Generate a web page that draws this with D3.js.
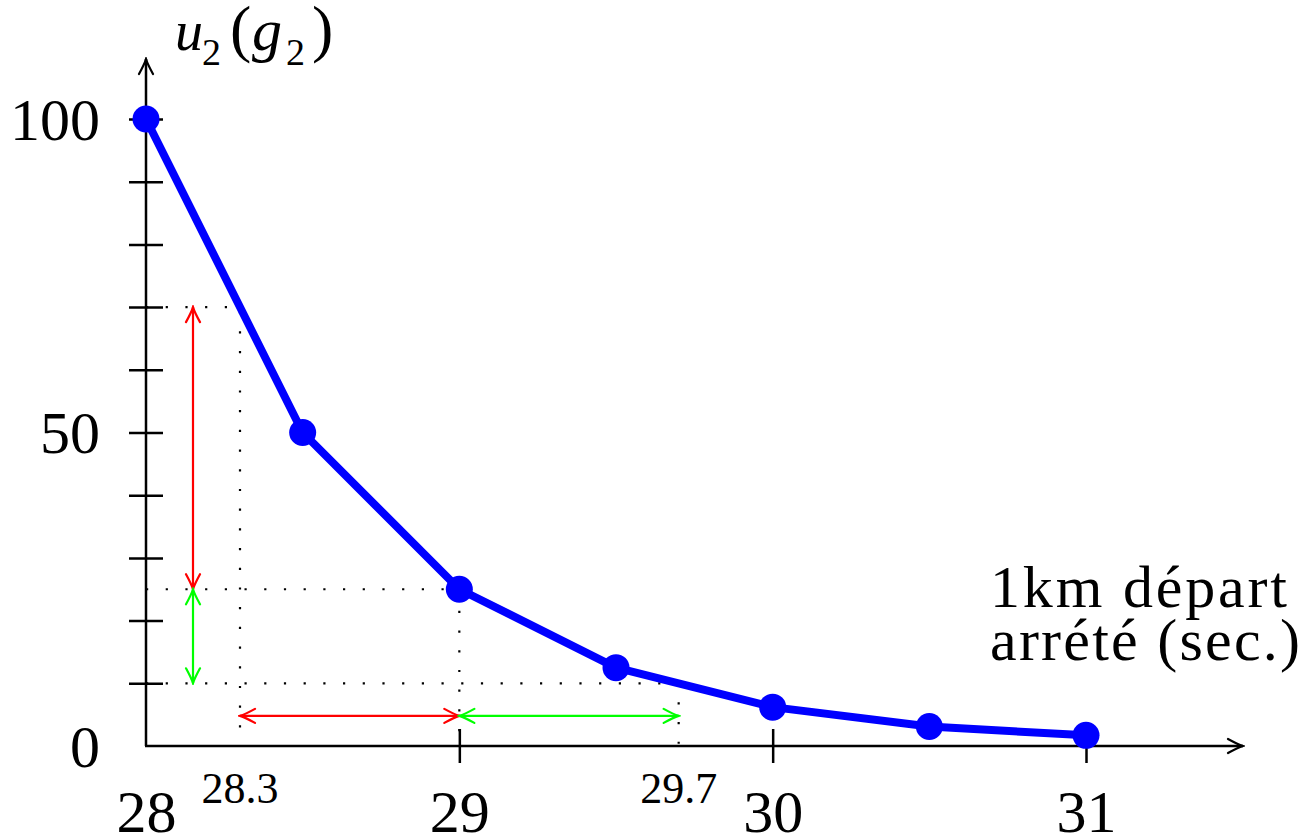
<!DOCTYPE html>
<html>
<head>
<meta charset="utf-8">
<script src="https://cdn.jsdelivr.net/npm/d3@7"></script>
<style>
  html, body { margin: 0; padding: 0; background: #fff; }
  svg { display: block; }
  text { font-family: "Liberation Serif", "DejaVu Serif", serif; fill: #000; }
</style>
</head>
<body>
<svg id="chart" width="1305" height="836"></svg>
<script>
// ---- data ----
const xValues = [28, 28.5, 29, 29.5, 30, 30.5, 31];
const yValues = [100, 50, 25, 12.5, 6.2, 3.1, 1.7];
const yTickValues = [0, 10, 20, 30, 40, 50, 60, 70, 80, 90, 100];
const yTickLabels = [0, 50, 100];
const xTickValues = [28, 29, 30, 31];
const xMarkValues = [29, 30, 31];
const xSmallLabels = [28.3, 29.7];
const guideLevels = [70, 25, 10];          // horizontal dotted guides (utility)
const guideXs = [28.3, 29, 29.7];          // matching x positions
const xLabelLines = ["1km départ", "arrété (sec.)"];

// ---- scales ----
const x = d3.scaleLinear().domain([28, 31]).range([146, 1086]);
const y = d3.scaleLinear().domain([0, 100]).range([746, 119]);

const svg = d3.select("#chart");

// markers
const defs = svg.append("defs");
function marker(id, color) {
  defs.append("marker")
    .attr("id", id)
    .attr("viewBox", "-18 -10 20 20")
    .attr("refX", 0).attr("refY", 0)
    .attr("markerWidth", 20).attr("markerHeight", 20)
    .attr("markerUnits", "userSpaceOnUse")
    .attr("orient", "auto-start-reverse")
    .append("path")
    .attr("d", "M-15,-7 Q-5,-1.5 0,0 Q-5,1.5 -15,7")
    .attr("fill", "none")
    .attr("stroke", color)
    .attr("stroke-width", 2.2)
    .attr("stroke-linecap", "round");
}
marker("arrRed", "#ff0000");
marker("arrGreen", "#00ff00");
marker("arrBlack", "#000");

// ---- dotted guides ----
const dotted = svg.append("g")
  .attr("fill", "none").attr("stroke", "#000")
  .attr("stroke-width", 2.2).attr("stroke-dasharray", "2.2,17.5");
guideLevels.forEach((lv, i) => {
  dotted.append("path").attr("d",
    `M${x(28)},${y(lv)} L${x(guideXs[i])},${y(lv)} L${x(guideXs[i])},${y(0)}`);
});

// ---- axes ----
const yAxis = d3.axisLeft(y)
  .tickValues(yTickValues)
  .tickSize(0)
  .tickPadding(46)
  .tickFormat(d => yTickLabels.includes(d) ? d : "");
const gy = svg.append("g").attr("transform", `translate(${x(28)},0)`).call(yAxis);
gy.select(".domain").remove();
gy.selectAll(".tick line")
  .attr("x1", -17).attr("x2", 17)
  .attr("stroke", "#000").attr("stroke-width", 2.5)
  .filter(d => d === 0).remove();
gy.selectAll(".tick text")
  .attr("font-size", 60).attr("dy", 20)
  .attr("font-family", "Liberation Serif");

const xAxis = d3.axisBottom(x)
  .tickValues(xTickValues)
  .tickSize(0)
  .tickFormat(d => d);
const gx = svg.append("g").attr("transform", `translate(0,${y(0)})`).call(xAxis);
gx.select(".domain").remove();
gx.selectAll(".tick line")
  .attr("y1", -17).attr("y2", 17)
  .attr("stroke", "#000").attr("stroke-width", 2.5)
  .filter(d => !xMarkValues.includes(d)).remove();
gx.selectAll(".tick text")
  .attr("font-size", 60).attr("y", 86).attr("dy", 0)
  .attr("font-family", "Liberation Serif");

// axis lines with arrows
svg.append("line")
  .attr("x1", x(28)).attr("y1", y(0)).attr("x2", x(28)).attr("y2", 59)
  .attr("stroke", "#000").attr("stroke-width", 2.5)
  .attr("marker-end", "url(#arrBlack)");
svg.append("line")
  .attr("x1", x(28) - 1).attr("y1", y(0)).attr("x2", 1243).attr("y2", y(0))
  .attr("stroke", "#000").attr("stroke-width", 2.5)
  .attr("marker-end", "url(#arrBlack)");

// small x labels
svg.selectAll("text.small").data(xSmallLabels).join("text")
  .attr("class", "small")
  .attr("x", d => x(d)).attr("y", 803)
  .attr("text-anchor", "middle")
  .attr("font-size", 44)
  .text(d => d);

// ---- coloured double arrows ----
function dbl(x1, y1, x2, y2, id, color) {
  svg.append("line")
    .attr("x1", x1).attr("y1", y1).attr("x2", x2).attr("y2", y2)
    .attr("stroke", color).attr("stroke-width", 2.2)
    .attr("marker-start", `url(#${id})`)
    .attr("marker-end", `url(#${id})`);
}
const ax = x(28.15);
dbl(ax, y(guideLevels[0]), ax, y(guideLevels[1]), "arrRed", "#ff0000");
dbl(ax, y(guideLevels[1]), ax, y(guideLevels[2]), "arrGreen", "#00ff00");
const ay = y(4.8);
dbl(x(guideXs[0]), ay, x(guideXs[1]), ay, "arrRed", "#ff0000");
dbl(x(guideXs[1]), ay, x(guideXs[2]), ay, "arrGreen", "#00ff00");

// ---- data line ----
const pts = xValues.map((v, i) => [v, yValues[i]]);
svg.append("path")
  .datum(pts)
  .attr("fill", "none")
  .attr("stroke", "#0000ff")
  .attr("stroke-width", 8)
  .attr("stroke-linejoin", "round")
  .attr("d", d3.line().x(d => x(d[0])).y(d => y(d[1])));
svg.selectAll("circle.pt").data(pts).join("circle")
  .attr("class", "pt")
  .attr("cx", d => x(d[0])).attr("cy", d => y(d[1]))
  .attr("r", 13.5).attr("fill", "#0000ff");

// ---- y axis title u2(g2) ----
const title = svg.append("g");
const tParts = [
  { t: "u", x: 175, dy: 0, size: 56, italic: true },
  { t: "2", x: 202, dy: 15, size: 38, italic: false },
  { t: "(", x: 230, dy: 0, size: 64, italic: false },
  { t: "g", x: 252, dy: 0, size: 60, italic: true },
  { t: "2", x: 286, dy: 15, size: 38, italic: false },
  { t: ")", x: 312, dy: 0, size: 64, italic: false }
];
tParts.forEach(p => {
  title.append("text")
    .attr("x", p.x).attr("y", 50 + p.dy)
    .attr("font-size", p.size)
    .attr("font-style", p.italic ? "italic" : "normal")
    .text(p.t);
});

// ---- x axis title ----
const xLabelWidths = [297, 310];
svg.selectAll("text.xlab").data(xLabelLines).join("text")
  .attr("class", "xlab")
  .attr("x", 990)
  .attr("y", (d, i) => 607 + i * 53)
  .attr("font-size", 60)
  .attr("textLength", (d, i) => xLabelWidths[i])
  .attr("lengthAdjust", "spacing")
  .text(d => d);
</script>
</body>
</html>
